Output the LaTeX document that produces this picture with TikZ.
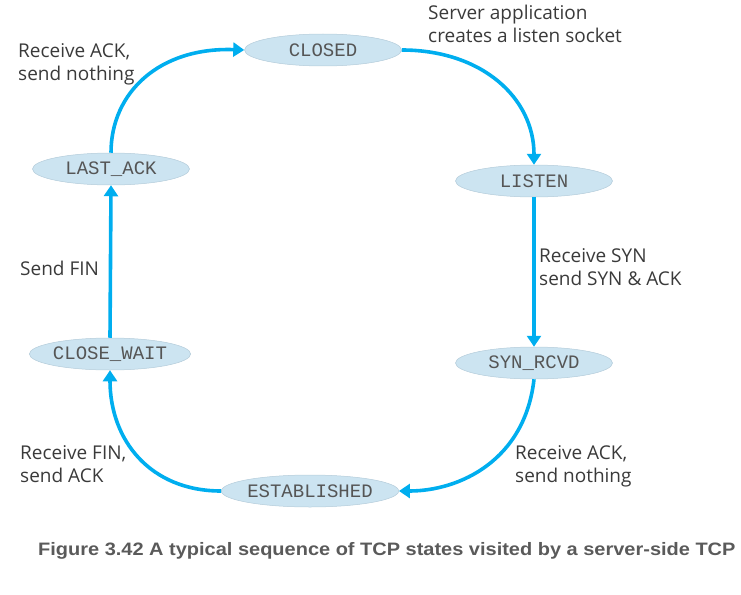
\documentclass[tikz,border=0pt]{standalone}
\usepackage{fontspec}
\setmainfont{Open Sans}
\newfontfamily\capfont{Liberation Sans}
\newfontfamily\statefont{Liberation Mono}
\usetikzlibrary{arrows.meta,shapes.geometric}
\definecolor{arrowblue}{HTML}{00AEEF}
\definecolor{statefill}{HTML}{CCE4F1}
\definecolor{stateedge}{HTML}{B4CCDA}
\definecolor{labelgray}{HTML}{3A3A3A}
\definecolor{stategray}{HTML}{555555}
\definecolor{capgray}{HTML}{5A5A5A}
\begin{document}
\begin{tikzpicture}[x=1pt,y=-1pt,
  state/.style={ellipse,fill=statefill,draw=stateedge,line width=0.5pt,
    minimum width=157pt,minimum height=32pt,inner sep=0pt,
    font=\statefont\fontsize{19}{20}\selectfont,text=stategray},
  lbl/.style={anchor=base west,inner sep=0pt,align=left,
    font=\fontsize{19}{23}\selectfont,text=labelgray},
  conn/.style={draw=arrowblue,line width=3.6pt,
    -{Triangle[width=14pt,length=11pt]}},
]
\useasboundingbox (0,0) rectangle (741,594);
\node[state] (closed) at (323,50) {CLOSED};
\node[state] (listen) at (534,181) {LISTEN};
\node[state] (synrcvd) at (534,363) {SYN\_RCVD};
\node[state] (est) at (310,491) {ESTABLISHED};
\node[state] (closewait) at (110,354) {CLOSE\_WAIT};
\node[state] (lastack) at (111,169) {LAST\_ACK};

\draw[conn] (lastack.north) .. controls (111,92) and (160,47) .. (closed.west);
\draw[conn] (closed.east) .. controls (482,50) and (534,98) .. (listen.north);
\draw[conn] (listen.south) -- (synrcvd.north);
\draw[conn] (synrcvd.south) .. controls (525,460) and (460,491) .. (est.east);
\draw[conn] (est.west) .. controls (150,491) and (110,440) .. (closewait.south);
\draw[conn] (closewait.north) -- (lastack.south);

\node[lbl] (l1) at (18,80) {Receive ACK,\\send nothing};
\node[lbl] (l2) at (428,42) {Server application\\creates a listen socket};
\node[lbl] (l3) at (539,285) {Receive SYN\\send SYN \& ACK};
\node[lbl] (l4) at (20,275) {Send FIN};
\node[lbl] (l5) at (20,482) {Receive FIN,\\send ACK};
\node[lbl] (l6) at (515,482) {Receive ACK,\\send nothing};
\node[anchor=base west,inner sep=0pt,text=capgray,
  font=\capfont\bfseries\fontsize{18}{20}\selectfont] (cap) at (38,555)
  {\scalebox{1.11}[1]{Figure 3.42 A typical sequence of TCP states visited by a server-side TCP}};
\end{tikzpicture}
\end{document}
